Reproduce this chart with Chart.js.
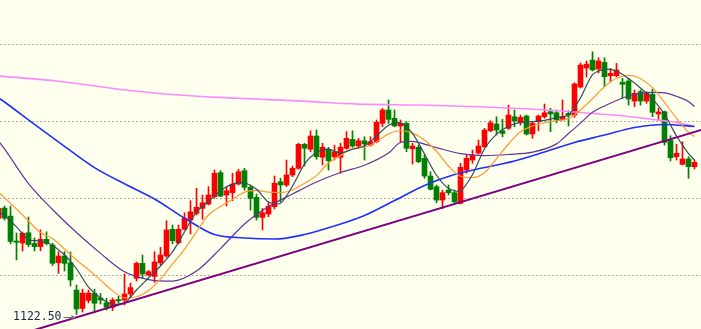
<!DOCTYPE html>
<html><head><meta charset="utf-8">
<script src="https://cdn.jsdelivr.net/npm/chart.js@4.4.0/dist/chart.umd.min.js"></script>
<style>html,body{margin:0;padding:0;background:#ffffee;}#wrap{width:701px;height:329px;}</style>
</head><body><div id="wrap"><canvas id="c" width="701" height="329"></canvas></div>
<script>
// candle index of the first entry (partly hidden candle at the left edge)
const firstIndex = -1;
const opens = [1128.75,1129.41,1128.89,1127.27,1127.14,1127.81,1127.11,1126.91,1127.38,1127.01,1125.86,1126.30,1125.86,1124.09,1122.89,1123.41,1123.87,1123.57,1123.26,1122.97,1123.47,1123.44,1123.83,1124.85,1125.82,1125.06,1124.97,1125.86,1126.30,1128.03,1127.16,1128.03,1128.63,1129.07,1129.39,1129.67,1130.15,1131.71,1130.26,1130.41,1130.97,1131.84,1130.76,1130.11,1128.81,1129.02,1129.50,1131.12,1130.91,1131.56,1131.99,1133.55,1133.23,1134.09,1132.71,1133.23,1132.75,1132.71,1133.29,1133.87,1133.44,1133.78,1133.50,1133.72,1134.91,1135.78,1135.24,1134.74,1134.91,1133.26,1133.36,1132.64,1131.49,1130.80,1129.93,1130.58,1130.41,1129.72,1131.88,1132.53,1132.97,1133.39,1134.43,1134.87,1134.43,1134.59,1135.34,1134.95,1135.39,1134.22,1135.02,1135.34,1135.67,1135.60,1135.17,1135.56,1135.45,1137.27,1138.50,1139.02,1138.44,1138.87,1138.00,1138.00,1137.58,1137.66,1136.36,1136.97,1136.36,1136.80,1135.52,1135.67,1133.83,1132.75,1132.25,1132.60,1132.10];
const highs = [1129.54,1129.54,1129.54,1127.79,1127.86,1128.83,1127.47,1127.99,1127.87,1127.12,1126.58,1126.58,1126.56,1124.41,1124.15,1124.09,1124.15,1123.86,1123.55,1123.57,1123.70,1125.13,1124.54,1125.91,1126.36,1125.36,1126.58,1126.86,1128.59,1128.31,1128.31,1129.11,1129.89,1130.69,1130.26,1130.80,1131.88,1131.84,1130.80,1131.67,1131.93,1131.99,1130.91,1130.32,1129.39,1129.82,1131.49,1131.34,1132.53,1132.14,1133.62,1133.62,1134.43,1134.48,1133.62,1133.36,1133.50,1133.62,1134.37,1134.43,1133.94,1134.04,1134.04,1135.13,1135.89,1136.43,1135.78,1135.13,1135.02,1133.62,1133.50,1132.86,1131.77,1130.91,1130.58,1130.91,1130.58,1132.32,1132.86,1133.18,1133.83,1134.59,1135.08,1135.34,1135.17,1136.10,1135.78,1135.45,1135.45,1135.02,1135.45,1136.17,1135.89,1135.78,1136.43,1135.73,1137.55,1138.83,1138.96,1139.56,1139.17,1139.17,1138.48,1138.81,1137.84,1137.84,1137.08,1137.08,1136.97,1137.14,1135.91,1135.71,1134.11,1133.55,1133.72,1132.75,1132.53];
const lows = [1128.63,1128.63,1127.08,1126.04,1126.62,1126.90,1126.62,1126.64,1127.01,1125.68,1125.17,1125.32,1124.35,1122.50,1122.66,1123.25,1122.60,1123.18,1122.79,1122.75,1123.23,1123.12,1123.63,1124.67,1124.85,1125.00,1124.58,1125.71,1126.21,1127.08,1127.08,1127.99,1127.73,1128.96,1128.68,1129.61,1130.04,1130.15,1129.54,1129.89,1130.91,1130.58,1129.28,1128.63,1127.99,1128.85,1129.35,1129.82,1130.80,1131.45,1131.93,1132.14,1133.07,1132.58,1132.21,1131.88,1132.53,1131.67,1133.23,1133.36,1133.37,1132.53,1133.44,1133.65,1134.69,1134.91,1134.69,1133.65,1133.07,1132.27,1132.36,1131.34,1130.58,1129.76,1129.39,1130.26,1129.72,1129.67,1131.67,1132.32,1132.92,1133.36,1134.37,1134.15,1134.04,1134.52,1134.69,1134.80,1134.15,1133.94,1134.43,1135.24,1134.37,1134.95,1135.13,1134.74,1135.30,1137.21,1137.92,1138.31,1138.18,1137.29,1137.61,1137.94,1136.54,1136.10,1135.99,1136.10,1136.21,1135.34,1135.13,1133.50,1132.47,1132.53,1132.21,1131.34,1131.95];
const closes = [1129.39,1128.76,1127.24,1127.19,1127.77,1127.04,1126.91,1127.38,1127.11,1125.82,1126.30,1125.82,1124.74,1122.86,1123.89,1123.89,1123.23,1123.44,1122.97,1123.44,1123.39,1123.83,1124.25,1125.82,1125.13,1125.28,1125.91,1126.36,1127.99,1127.29,1128.03,1128.75,1129.17,1129.46,1129.76,1130.26,1131.67,1130.19,1130.54,1130.97,1131.77,1130.76,1130.04,1128.81,1129.11,1129.54,1131.02,1130.91,1131.56,1131.99,1133.55,1133.29,1134.09,1132.75,1133.36,1132.49,1133.07,1133.36,1133.94,1133.44,1133.78,1133.57,1133.72,1134.98,1135.78,1135.17,1134.74,1134.91,1133.29,1133.44,1132.42,1131.49,1130.63,1129.93,1130.41,1130.41,1129.82,1132.06,1132.64,1132.86,1133.44,1134.48,1134.95,1134.48,1134.26,1135.45,1135.08,1135.30,1134.22,1134.91,1135.39,1135.60,1135.52,1135.13,1135.34,1135.45,1137.47,1138.70,1138.76,1138.38,1138.96,1137.94,1138.16,1138.38,1137.45,1136.49,1136.86,1136.36,1136.86,1135.63,1135.65,1133.68,1132.68,1132.97,1132.60,1132.10,1132.38];

// moving-average lines at these candle indices
const ma5Idx = [-1,0,2,4,6,8,10,12,14,16,18,20,22,24,26,28,30,32,34,36,38,40,42,44,46,48,50,52,54,56,58,60,62,64,66,68,70,72,74,76,78,80,82,84,86,88,90,92,94,96,98,100,102,104,106,108,110,112,114,115];
const ma5 = [1129.16,1128.93,1128.19,1127.36,1127.27,1126.98,1126.36,1125.47,1124.28,1123.57,1123.18,1123.25,1124.09,1124.87,1125.65,1126.56,1127.86,1129.17,1129.85,1130.54,1130.97,1131.04,1130.63,1129.80,1129.72,1130.84,1132.27,1133.02,1133.24,1132.98,1133.23,1133.44,1134.09,1134.79,1134.95,1134.26,1132.92,1131.54,1130.69,1130.52,1131.59,1133.26,1134.21,1134.72,1134.97,1135.02,1135.10,1135.29,1135.45,1136.56,1138.08,1138.42,1138.31,1137.82,1137.21,1136.49,1135.52,1134.09,1132.95,1132.53];
const ma10Idx = ma5Idx;
const ma10 = [1130.45,1130.08,1129.35,1128.57,1127.82,1127.43,1126.75,1126.04,1125.41,1124.73,1124.05,1123.58,1123.65,1124.06,1124.80,1125.78,1126.73,1127.87,1128.96,1129.52,1129.97,1130.45,1130.56,1130.44,1130.41,1130.58,1131.02,1131.52,1132.34,1132.82,1133.28,1133.36,1133.72,1134.23,1134.43,1134.28,1133.83,1133.10,1132.14,1131.48,1131.39,1131.71,1132.62,1133.57,1134.37,1134.74,1134.95,1135.08,1135.22,1135.78,1136.51,1137.29,1137.84,1138.03,1137.81,1137.23,1136.28,1135.24,1134.34,1134.06];
const ma20Idx = [-1,0,4,8,12,16,20,24,28,32,36,40,44,48,52,56,60,64,66,68,70,72,76,80,84,88,92,94,96,98,100,104,108,110,112,114,115];
const ma20 = [1133.77,1133.25,1131.00,1129.32,1127.82,1126.47,1125.27,1124.77,1124.67,1125.32,1126.78,1128.38,1129.51,1130.32,1131.10,1131.72,1132.19,1132.98,1133.67,1133.74,1133.56,1133.34,1132.95,1132.82,1132.89,1133.04,1133.58,1134.25,1134.93,1135.63,1136.04,1136.69,1136.92,1136.89,1136.67,1136.33,1136.00];
const ma60Idx = [-1,0,5,10,15,20,25,30,35,40,45,50,55,60,65,70,75,80,85,90,95,100,105,110,115];
const ma60 = [1136.56,1136.30,1134.84,1133.42,1132.04,1130.99,1130.00,1128.76,1127.69,1127.47,1127.40,1127.69,1128.25,1128.93,1129.90,1130.88,1131.59,1132.04,1132.47,1133.05,1133.67,1134.15,1134.64,1134.84,1134.71];
const ma120Idx = [-1,9,19,29,39,49,59,69,79,89,99,104,109,112,115];
const ma120 = [1137.99,1137.65,1137.13,1136.75,1136.54,1136.37,1136.16,1136.10,1135.99,1135.81,1135.52,1135.36,1135.12,1134.97,1134.71];
// support trend line
const trendIdx = [4, 117];
const trendVals = [1121.38, 1134.59];
// horizontal reference levels
const gridStep = 5;
// lowest-price marker
const lowMarkIdx = 12;

const UP = '#ff0000', DOWN = '#008000';
const idx = opens.map((_, k) => firstIndex + k);
const colors = idx.map((_, k) => closes[k] >= opens[k] ? UP : DOWN);
const wicks = idx.map((x, k) => ({x, y: [lows[k], highs[k]]}));
const bodies = idx.map((x, k) => ({x, y: [opens[k], closes[k]]}));
const pts = (I, V) => I.map((x, k) => ({x, y: V[k]}));

const bg = {id:'bg', beforeDraw(c){const g=c.ctx; g.save(); g.fillStyle='#ffffee'; g.fillRect(0,0,c.width,c.height); g.restore();}};
const lowLabel = {id:'lowLabel', afterDatasetsDraw(c){
  const g=c.ctx, k=lowMarkIdx-firstIndex;
  const px=c.scales.x.getPixelForValue(lowMarkIdx), py=c.scales.y.getPixelForValue(lows[k])+2.5;
  g.save();
  g.font='11.5px "DejaVu Sans Mono"'; g.fillStyle='#14244a'; g.textAlign='right'; g.textBaseline='middle';
  g.fillText(lows[k].toFixed(2), px-15, py);
  g.strokeStyle='#707070'; g.fillStyle='#707070'; g.lineWidth=1;
  g.beginPath(); g.moveTo(px-13, py+0.5); g.lineTo(px-3, py+0.5); g.stroke();
  g.beginPath(); g.moveTo(px-1, py+0.5); g.lineTo(px-5, py-2); g.lineTo(px-5, py+3); g.closePath(); g.fill();
  g.restore();
}};

const line = (label, data, color, w, order, extra) => Object.assign({type:'line', label, data, borderColor:color, borderWidth:w, pointRadius:0, fill:false, order}, extra||{});

new Chart(document.getElementById('c'), {
  type: 'bar',
  data: { datasets: [
    line('trend', pts(trendIdx, trendVals), '#800080', 2, 1),
    line('MA5', pts(ma5Idx, ma5), '#2f4f60', 1.2, 2, {tension:0.25}),
    line('MA10', pts(ma10Idx, ma10), '#ff9933', 1.2, 3, {cubicInterpolationMode:'monotone'}),
    line('MA20', pts(ma20Idx, ma20), '#663399', 1.2, 4, {cubicInterpolationMode:'monotone'}),
    line('MA60', pts(ma60Idx, ma60), '#2030ff', 1.6, 5, {cubicInterpolationMode:'monotone'}),
    line('MA120', pts(ma120Idx, ma120), '#ff88ff', 1.6, 6, {cubicInterpolationMode:'monotone'}),
    {type:'bar', label:'body', data:bodies, backgroundColor:colors, barThickness:5, grouped:false, minBarLength:1, order:20},
    {type:'bar', label:'wick', data:wicks, backgroundColor:colors, barThickness:1, grouped:false, order:21}
  ]},
  options: {
    responsive:false, animation:false, events:[],
    layout:{padding:0},
    plugins:{legend:{display:false}, tooltip:{enabled:false}},
    scales:{
      x:{type:'linear', min:-0.75, max:116.0833, display:false, offset:false},
      y:{type:'linear', min:1121.558, max:1142.922,
         ticks:{display:false, stepSize:gridStep, includeBounds:false},
         grid:{color:'#b0b0a8', drawTicks:false, lineWidth:1},
         border:{display:false, dash:[2,2]}}
    }
  },
  plugins:[bg, lowLabel]
});
</script></body></html>
